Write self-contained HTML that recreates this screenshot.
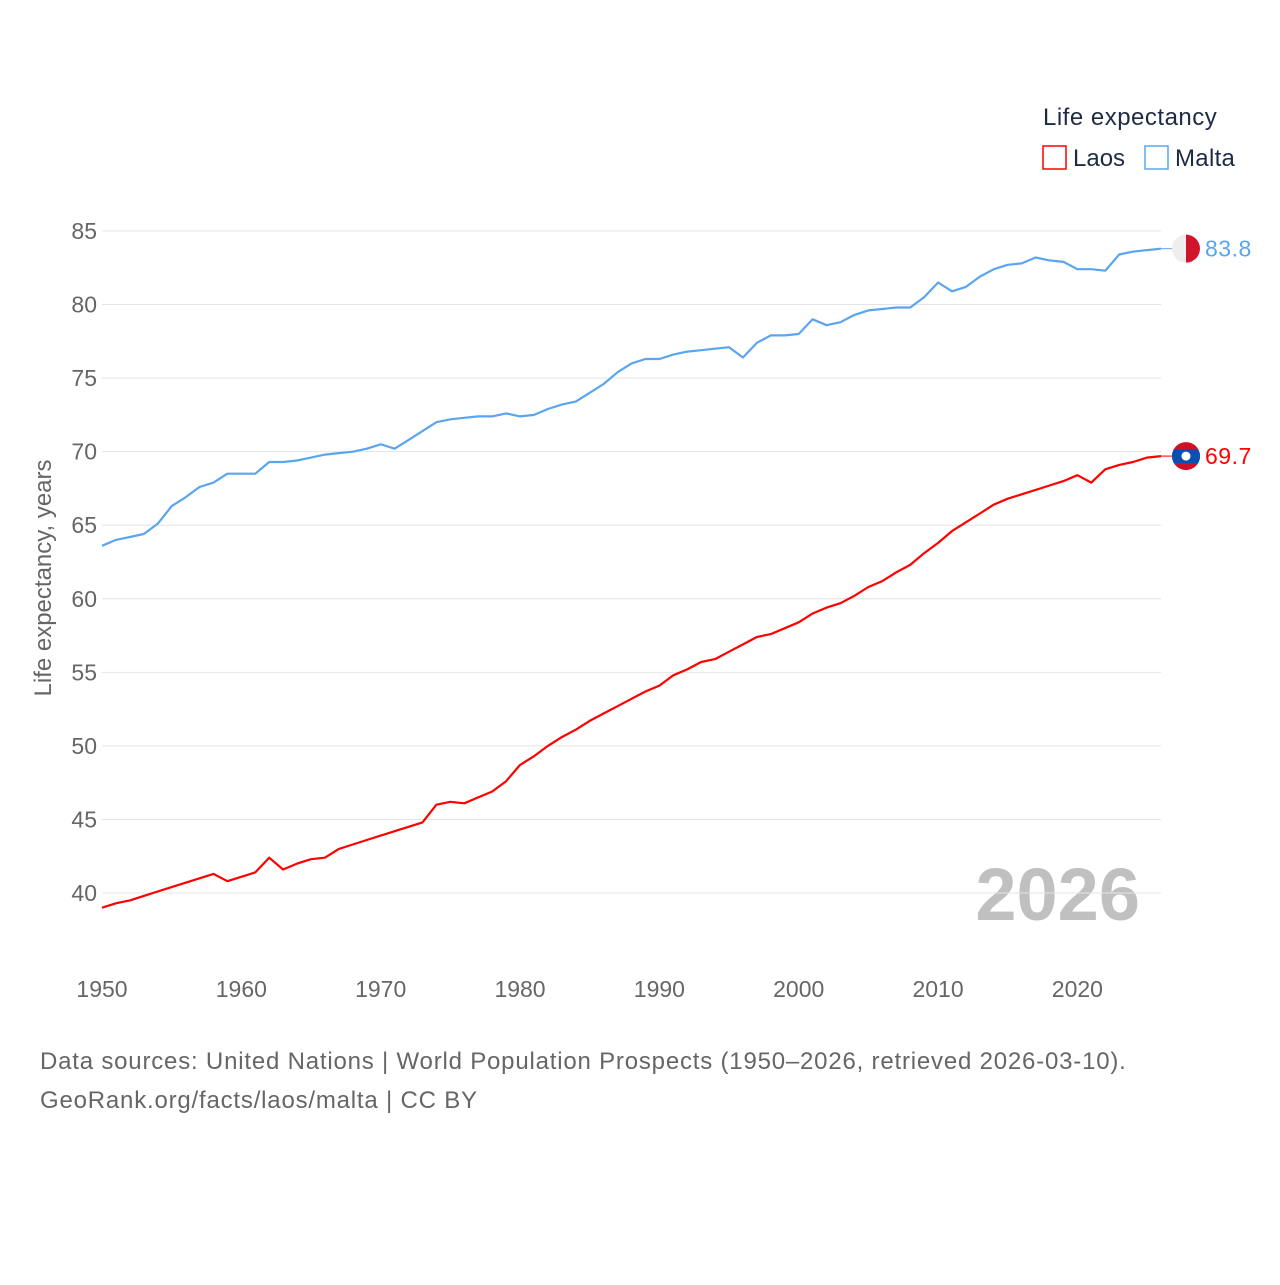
<!DOCTYPE html>
<html><head><meta charset="utf-8"><style>
body{margin:0;background:#fff;font-family:"Liberation Sans",sans-serif}
svg text{font-family:"Liberation Sans",sans-serif}
</style></head><body>
<svg id="c" width="1280" height="1280">
<defs><clipPath id="fc"><circle cx="1186" cy="456" r="14"/></clipPath></defs>
<text x="1043" y="125" font-size="24" letter-spacing="0.5" fill="#1d2b44">Life expectancy</text>
<rect x="1043" y="146" width="23" height="23" fill="none" stroke="#ff0000" stroke-width="1.5"/>
<text x="1073" y="166" font-size="24" fill="#1d2b44">Laos</text>
<rect x="1145" y="146" width="23" height="23" fill="none" stroke="#5aa5ee" stroke-width="1.5"/>
<text x="1175" y="166" font-size="24" letter-spacing="0.3" fill="#1d2b44">Malta</text>
<text transform="translate(51,578) rotate(-90)" text-anchor="middle" font-size="24" fill="#666">Life expectancy, years</text>
<text x="1140" y="920" text-anchor="end" font-size="74" font-weight="bold" fill="#c0c0c0">2026</text>
<g id="grid"></g><g id="lines"></g>
<text x="40" y="1069" font-size="24" letter-spacing="0.8" fill="#666">Data sources: United Nations | World Population Prospects (1950–2026, retrieved 2026-03-10).</text>
<text x="40" y="1108" font-size="24" letter-spacing="0.8" fill="#666">GeoRank.org/facts/laos/malta | CC BY</text>
</svg>
<script>
const startYear=1950;
const yTicks=[40,45,50,55,60,65,70,75,80,85];
const xTicks=[1950,1960,1970,1980,1990,2000,2010,2020];
const malta=[63.6,64.0,64.2,64.4,65.1,66.3,66.9,67.6,67.9,68.5,68.5,68.5,69.3,69.3,69.4,69.6,69.8,69.9,70.0,70.2,70.5,70.2,70.8,71.4,72.0,72.2,72.3,72.4,72.4,72.6,72.4,72.5,72.9,73.2,73.4,74.0,74.6,75.4,76.0,76.3,76.3,76.6,76.8,76.9,77.0,77.1,76.4,77.4,77.9,77.9,78.0,79.0,78.6,78.8,79.3,79.6,79.7,79.8,79.8,80.5,81.5,80.9,81.2,81.9,82.4,82.7,82.8,83.2,83.0,82.9,82.4,82.4,82.3,83.4,83.6,83.7,83.8];
const laos=[39.0,39.3,39.5,39.8,40.1,40.4,40.7,41.0,41.3,40.8,41.1,41.4,42.4,41.6,42.0,42.3,42.4,43.0,43.3,43.6,43.9,44.2,44.5,44.8,46.0,46.2,46.1,46.5,46.9,47.6,48.7,49.3,50.0,50.6,51.1,51.7,52.2,52.7,53.2,53.7,54.1,54.8,55.2,55.7,55.9,56.4,56.9,57.4,57.6,58.0,58.4,59.0,59.4,59.7,60.2,60.8,61.2,61.8,62.3,63.1,63.8,64.6,65.2,65.8,66.4,66.8,67.1,67.4,67.7,68.0,68.4,67.9,68.8,69.1,69.3,69.6,69.7];
const NS='http://www.w3.org/2000/svg';
const X=yr=>102+(yr-1950)*(1059/76);
const Y=v=>231+(85-v)*(662/45);
function mk(tag,attrs,parent,txt){const e=document.createElementNS(NS,tag);for(const k in attrs)e.setAttribute(k,attrs[k]);if(txt!==undefined)e.textContent=txt;parent.appendChild(e);return e;}
const grid=document.getElementById('grid'),lines=document.getElementById('lines');
yTicks.forEach(t=>{
 const l=mk('line',{x1:102,x2:1161,y1:Y(t),y2:Y(t),stroke:'#e4e4e4','stroke-width':1},grid);
 
 
 const tx=mk('text',{x:97,y:Y(t)+8,'text-anchor':'end','font-size':23,fill:'#666'},grid,t);
 
 
});
xTicks.forEach(t=>{
 const tx=mk('text',{x:X(t),y:997,'text-anchor':'middle','font-size':23,fill:'#666'},grid,t);
 
 
});
function series(vals,color,name){
 const d=vals.map((v,i)=>(i?'L':'M')+X(startYear+i).toFixed(1)+' '+Y(v).toFixed(1)).join('');
 const p=mk('path',{d:d,fill:'none',stroke:color,'stroke-width':2.2,'stroke-linejoin':'round'},lines);
 
 
 const last=vals[vals.length-1],ly=Y(last);
 mk('line',{x1:X(startYear+vals.length-1),x2:1175,y1:ly,y2:ly,stroke:color,'stroke-width':1},lines);
 const g=mk('g',{},lines);
 
 
 if(name==='malta'){
  mk('circle',{cx:1186,cy:ly,r:14,fill:'#eee'},g);
  mk('path',{d:`M1186 ${ly-14}A14 14 0 0 1 1186 ${ly+14}Z`,fill:'#cf142b'},g);
 }else{
  document.querySelector('#fc circle').setAttribute('cy',ly);
  mk('circle',{cx:1186,cy:ly,r:14,fill:'#ce1126'},g);
  mk('rect',{x:1172,y:ly-7,width:28,height:14,fill:'#0b4fb3','clip-path':'url(#fc)'},g);
  mk('circle',{cx:1186,cy:ly,r:4.5,fill:'#fff'},g);
 }
 const lab=mk('text',{x:1205,y:ly+8,'font-size':23,'letter-spacing':0.5,fill:color},lines,last.toFixed(1));
 
 
}
series(malta,'#5aa5ee','malta');
series(laos,'#ff0000','laos');
</script>
</body></html>
